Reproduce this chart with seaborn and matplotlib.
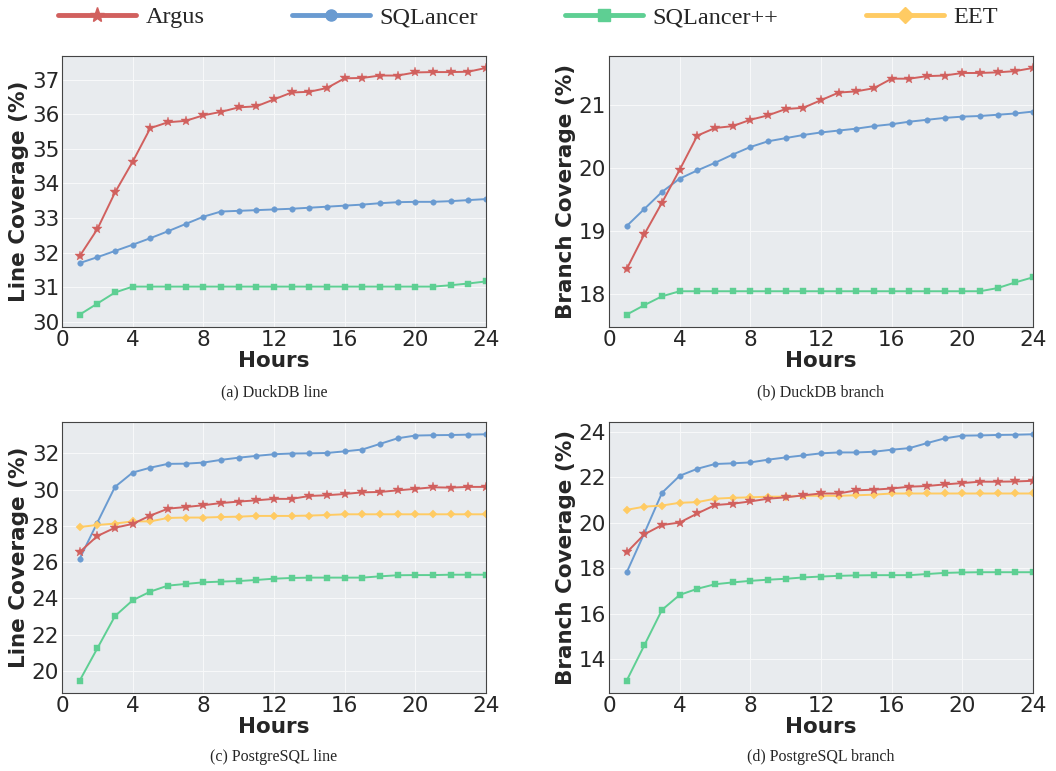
import numpy as np
import pandas as pd
import matplotlib
matplotlib.use("Agg")
import matplotlib.pyplot as plt
import seaborn as sns

hours = list(range(1, 25))

# (a) DuckDB line
duck_line_argus = [31.90, 32.68, 33.74, 34.63, 35.60, 35.77, 35.81, 35.97, 36.07, 36.20, 36.23, 36.43,
                   36.63, 36.65, 36.76, 37.04, 37.05, 37.12, 37.12, 37.21, 37.22, 37.22, 37.23, 37.34]
duck_line_sqlancer = [31.70, 31.87, 32.05, 32.23, 32.42, 32.62, 32.83, 33.04, 33.19, 33.21, 33.23, 33.25,
                      33.27, 33.30, 33.33, 33.36, 33.39, 33.43, 33.46, 33.47, 33.47, 33.49, 33.52, 33.55]
duck_line_sqlpp = [30.21, 30.53, 30.85, 31.02, 31.02, 31.02, 31.02, 31.02, 31.02, 31.02, 31.02, 31.02,
                   31.02, 31.02, 31.02, 31.02, 31.02, 31.02, 31.02, 31.02, 31.02, 31.06, 31.11, 31.17]

# (b) DuckDB branch
duck_branch_argus = [18.40, 18.95, 19.45, 19.97, 20.51, 20.63, 20.66, 20.76, 20.83, 20.93, 20.95, 21.07,
                     21.19, 21.21, 21.26, 21.41, 21.41, 21.45, 21.46, 21.50, 21.50, 21.51, 21.53, 21.58]
duck_branch_sqlancer = [19.08, 19.35, 19.62, 19.83, 19.96, 20.08, 20.21, 20.33, 20.42, 20.47, 20.52, 20.56,
                        20.59, 20.62, 20.66, 20.69, 20.73, 20.76, 20.79, 20.81, 20.82, 20.84, 20.86, 20.89]
duck_branch_sqlpp = [17.68, 17.83, 17.97, 18.05, 18.05, 18.05, 18.05, 18.05, 18.05, 18.05, 18.05, 18.05,
                     18.05, 18.05, 18.05, 18.05, 18.05, 18.05, 18.05, 18.05, 18.05, 18.10, 18.19, 18.27]

# (c) PostgreSQL line
pg_line_argus = [26.56, 27.44, 27.90, 28.11, 28.57, 28.95, 29.04, 29.14, 29.26, 29.34, 29.41, 29.49,
                 29.49, 29.65, 29.69, 29.76, 29.85, 29.87, 29.96, 30.04, 30.13, 30.11, 30.15, 30.15]
pg_line_sqlancer = [26.19, 28.18, 30.15, 30.94, 31.21, 31.42, 31.43, 31.49, 31.64, 31.76, 31.86, 31.95,
                    31.99, 32.00, 32.02, 32.11, 32.21, 32.52, 32.83, 32.98, 33.00, 33.01, 33.03, 33.05]
pg_line_sqlpp = [19.47, 21.25, 23.03, 23.90, 24.38, 24.71, 24.80, 24.89, 24.93, 24.96, 25.02, 25.09,
                 25.13, 25.15, 25.15, 25.15, 25.15, 25.22, 25.28, 25.29, 25.29, 25.31, 25.31, 25.31]
pg_line_eet = [27.94, 28.05, 28.13, 28.25, 28.25, 28.44, 28.46, 28.46, 28.49, 28.51, 28.55, 28.55,
               28.55, 28.57, 28.60, 28.64, 28.64, 28.64, 28.64, 28.64, 28.64, 28.64, 28.64, 28.64]

# (d) PostgreSQL branch
pg_branch_argus = [18.69, 19.49, 19.90, 20.01, 20.41, 20.78, 20.84, 20.94, 21.06, 21.12, 21.21, 21.29,
                   21.29, 21.43, 21.46, 21.51, 21.59, 21.62, 21.69, 21.75, 21.81, 21.81, 21.82, 21.85]
pg_branch_sqlancer = [17.81, 19.54, 21.32, 22.07, 22.38, 22.59, 22.62, 22.66, 22.78, 22.88, 22.97, 23.06,
                      23.10, 23.10, 23.13, 23.22, 23.29, 23.51, 23.72, 23.84, 23.85, 23.87, 23.88, 23.90]
pg_branch_sqlpp = [13.04, 14.60, 16.16, 16.82, 17.09, 17.29, 17.37, 17.44, 17.49, 17.53, 17.59, 17.63,
                   17.66, 17.68, 17.69, 17.69, 17.69, 17.74, 17.79, 17.81, 17.82, 17.82, 17.82, 17.82]
pg_branch_eet = [20.57, 20.71, 20.76, 20.88, 20.91, 21.06, 21.10, 21.12, 21.15, 21.15, 21.19, 21.19,
                 21.19, 21.21, 21.24, 21.29, 21.29, 21.29, 21.29, 21.29, 21.29, 21.29, 21.29, 21.29]

tools = ["Argus", "SQLancer", "SQLancer++", "EET"]
colors = {"Argus": "#d1605e", "SQLancer": "#6a9bd1", "SQLancer++": "#5ecf93", "EET": "#ffcb63"}
markers = {"Argus": "*", "SQLancer": "o", "SQLancer++": "s", "EET": "D"}
msizes = {"Argus": 7, "SQLancer": 4, "SQLancer++": 4, "EET": 4}

panels = [
    ("(a) DuckDB line", "Line Coverage (%)", range(30, 38, 1),
     {"Argus": duck_line_argus, "SQLancer": duck_line_sqlancer, "SQLancer++": duck_line_sqlpp}),
    ("(b) DuckDB branch", "Branch Coverage (%)", range(18, 22, 1),
     {"Argus": duck_branch_argus, "SQLancer": duck_branch_sqlancer, "SQLancer++": duck_branch_sqlpp}),
    ("(c) PostgreSQL line", "Line Coverage (%)", range(20, 34, 2),
     {"Argus": pg_line_argus, "SQLancer": pg_line_sqlancer, "SQLancer++": pg_line_sqlpp, "EET": pg_line_eet}),
    ("(d) PostgreSQL branch", "Branch Coverage (%)", range(14, 26, 2),
     {"Argus": pg_branch_argus, "SQLancer": pg_branch_sqlancer, "SQLancer++": pg_branch_sqlpp, "EET": pg_branch_eet}),
]

sns.set_style("darkgrid", {"axes.facecolor": "#e8ebee", "grid.color": "#f7f8f9",
                           "axes.edgecolor": "#444444", "axes.linewidth": 1.2})

fig = plt.figure(figsize=(10.56, 7.71), dpi=100)
positions = [
    [0.0587, 0.5759, 0.4015, 0.352],
    [0.5767, 0.5759, 0.4015, 0.352],
    [0.0587, 0.1012, 0.4015, 0.3515],
    [0.5767, 0.1012, 0.4015, 0.3515],
]
caption_y = [0.4916, 0.4916, 0.018, 0.018]

for (caption, ylabel, yticks, series), pos, cy in zip(panels, positions, caption_y):
    ax = fig.add_axes(pos)
    # draw order: SQLancer++, SQLancer, EET, Argus on top
    for name in ["SQLancer++", "SQLancer", "EET", "Argus"]:
        if name not in series:
            continue
        df = pd.DataFrame({"Hours": hours, "cov": series[name]})
        sns.lineplot(data=df, x="Hours", y="cov", ax=ax, color=colors[name], marker=markers[name],
                     markersize=msizes[name], markeredgewidth=0.3, markeredgecolor=colors[name],
                     linewidth=1.4, label=name, legend=False)
    ax.set_xlim(0, 24)
    ax.set_xticks([0, 4, 8, 12, 16, 20, 24])
    ax.set_yticks(list(yticks))
    ax.set_xlabel("Hours", fontsize=15.5, fontweight="bold", labelpad=1)
    ax.set_ylabel(ylabel, fontsize=15.5, fontweight="bold", labelpad=2)
    ax.tick_params(axis="both", labelsize=15.5, length=0, pad=2)
    ax.grid(True, linewidth=0.8)
    for sp in ax.spines.values():
        sp.set_visible(True)
    fig.text(pos[0] + pos[2] / 2, cy, caption, ha="center", va="center",
             fontsize=11.5, family="Liberation Serif")

handles = [plt.Line2D([], [], color=colors[t], marker=markers[t], linewidth=3.5,
                      markersize=11 if t == "Argus" else 8) for t in tools]
fig.legend(handles, tools, loc="upper center", bbox_to_anchor=(0.5, 1.02), ncol=4, frameon=False,
           handlelength=3.2, handletextpad=0.4, columnspacing=3.6,
           prop={"family": "Liberation Serif", "size": 17.5})

fig.savefig("out.png", dpi=100)
